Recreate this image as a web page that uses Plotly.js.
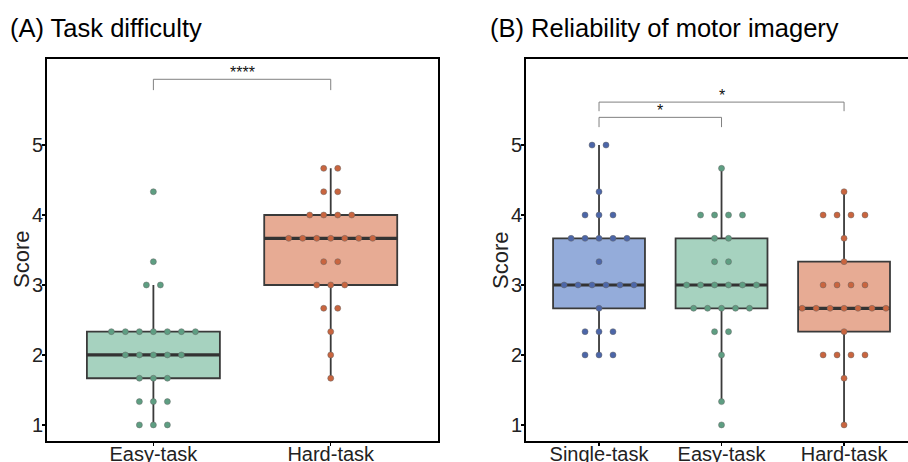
<!DOCTYPE html>
<html><head><meta charset="utf-8">
<script src="https://cdn.plot.ly/plotly-3.0.1.min.js"></script>
<style>html,body{margin:0;padding:0;background:#fff}</style>
</head><body><div id="chart" style="width:908px;height:462px"></div>
<script>
// ---- data ----
const catsA = ["Easy-task", "Hard-task"];
const catsB = ["Single-task", "Easy-task", "Hard-task"];
const difficultyEasy = [1, 1, 1, 1.333, 1.333, 1.333, 1.667, 1.667, 1.667, 2, 2, 2, 2, 2,
  2.333, 2.333, 2.333, 2.333, 2.333, 2.333, 2.333, 3, 3, 3.333, 4.333];
const difficultyHard = [1.667, 2, 2.333, 2.667, 2.667, 3, 3, 3, 3.333, 3.333,
  3.667, 3.667, 3.667, 3.667, 3.667, 3.667, 3.667, 4, 4, 4, 4, 4.333, 4.333, 4.667, 4.667];
const reliabilitySingle = [2, 2, 2, 2.333, 2.333, 2.333, 2.667, 3, 3, 3, 3, 3, 3, 3.333,
  3.667, 3.667, 3.667, 3.667, 3.667, 4, 4, 4, 4.333, 5, 5];
const reliabilityEasy = [1, 1.333, 2, 2.333, 2.333, 2.667, 2.667, 2.667, 2.667, 2.667,
  3, 3, 3, 3, 3, 3, 3.333, 3.333, 3.667, 3.667, 4, 4, 4, 4, 4.667];
const reliabilityHard = [1, 1.667, 2, 2, 2, 2, 2.333, 2.667, 2.667, 2.667, 2.667, 2.667, 2.667, 2.667,
  3, 3, 3, 3, 3.333, 3.667, 4, 4, 4, 4, 4.333];
const sigA = [{from: 0, to: 1, label: "****"}];
const sigB = [{from: 0, to: 1, label: "*"}, {from: 0, to: 2, label: "*"}];
const yTicks = [1, 2, 3, 4, 5];

// ---- styles ----
const fillGreen = "#a6d2bf", dotGreen = "#5e9e82";
const fillOrange = "#e7ab94", dotOrange = "#c9653f";
const fillBlue = "#94acda", dotBlue = "#4c66a8";
const FONT = "Liberation Sans, Arial, sans-serif";

function swarm(vals, center, step) {
  const groups = {};
  vals.forEach(v => { const k = v.toFixed(3); (groups[k] = groups[k] || []).push(v); });
  const xs = [], ys = [];
  Object.keys(groups).forEach(k => {
    const g = groups[k], n = g.length;
    g.forEach((v, i) => { xs.push(center + (i - (n - 1) / 2) * step); ys.push(v); });
  });
  return {xs, ys};
}
function median(vals) {
  const s = vals.slice().sort((a, b) => a - b), n = s.length;
  return n % 2 ? s[(n - 1) / 2] : (s[n / 2 - 1] + s[n / 2]) / 2;
}

const traces = [];
function addGroup(vals, idx, xa, ya, fill, dot, step) {
  traces.push({type: "box", y: vals, x0: idx, xaxis: xa, yaxis: ya, width: 0.75, quartilemethod: "inclusive",
    fillcolor: fill, line: {color: "#3a3a3a", width: 1.8}, whiskerwidth: 0,
    boxpoints: "outliers", marker: {opacity: 0}, hoverinfo: "skip", showlegend: false});
  const m = median(vals);
  traces.push({type: "scatter", mode: "lines", x: [idx - 0.375, idx + 0.375], y: [m, m],
    xaxis: xa, yaxis: ya, line: {color: "#333333", width: 3.2}, hoverinfo: "skip", showlegend: false});
  const s = swarm(vals, idx, step);
  traces.push({type: "scatter", mode: "markers", x: s.xs, y: s.ys, xaxis: xa, yaxis: ya,
    marker: {size: 6, color: dot, line: {width: 0.6, color: "rgba(100,100,100,0.8)"}},
    hoverinfo: "skip", showlegend: false});
}
const stepA = 0.079, stepB = 0.114;
addGroup(difficultyEasy, 0, "x", "y", fillGreen, dotGreen, stepA);
addGroup(difficultyHard, 1, "x", "y", fillOrange, dotOrange, stepA);
addGroup(reliabilitySingle, 0, "x2", "y2", fillBlue, dotBlue, stepB);
addGroup(reliabilityEasy, 1, "x2", "y2", fillGreen, dotGreen, stepB);
addGroup(reliabilityHard, 2, "x2", "y2", fillOrange, dotOrange, stepB);

const shapes = [], annotations = [];
function bracket(s, xr, yr, yTop, drop) {
  const ln = {color: "#808080", width: 1};
  shapes.push({type: "line", xref: xr, yref: yr, x0: s.from, x1: s.to, y0: yTop, y1: yTop, line: ln});
  shapes.push({type: "line", xref: xr, yref: yr, x0: s.from, x1: s.from, y0: yTop, y1: yTop - drop, line: ln});
  shapes.push({type: "line", xref: xr, yref: yr, x0: s.to, x1: s.to, y0: yTop, y1: yTop - drop, line: ln});
  annotations.push({xref: xr, yref: yr, x: (s.from + s.to) / 2, y: yTop, yanchor: "bottom", yshift: -4,
    text: s.label, showarrow: false, font: {family: FONT, size: 16, color: "#111"}});
}
bracket(sigA[0], "x", "y", 5.94, 0.155);
bracket(sigB[0], "x2", "y2", 5.396, 0.14);
bracket(sigB[1], "x2", "y2", 5.614, 0.13);

annotations.push({xref: "paper", yref: "paper", x: 8 / 908, y: (462 - 28) / 462, xanchor: "left", yanchor: "middle",
  text: "(A) Task difficulty", showarrow: false, font: {family: FONT, size: 25.5, color: "#000"}});
annotations.push({xref: "paper", yref: "paper", x: 488 / 908, y: (462 - 28) / 462, xanchor: "left", yanchor: "middle",
  text: "(B) Reliability of motor imagery", showarrow: false, font: {family: FONT, size: 25.5, color: "#000"}});
annotations.push({xref: "paper", yref: "paper", x: 21 / 908, y: (462 - 260) / 462, xanchor: "center", yanchor: "middle",
  textangle: -90, text: "Score", showarrow: false, font: {family: FONT, size: 22, color: "#222"}});
annotations.push({xref: "paper", yref: "paper", x: 500 / 908, y: (462 - 260) / 462, xanchor: "center", yanchor: "middle",
  textangle: -90, text: "Score", showarrow: false, font: {family: FONT, size: 22, color: "#222"}});

const axBase = {showline: true, linewidth: 2, linecolor: "#000", ticks: "outside", ticklen: 3, tickwidth: 1.5,
  tickcolor: "#000", showgrid: false, zeroline: false, tickfont: {family: FONT, size: 20, color: "#222"}};
const ydom = [21 / 462, 403 / 462];
const layout = {
  width: 908, height: 462, margin: {l: 0, r: 0, t: 0, b: 0}, paper_bgcolor: "#fff", plot_bgcolor: "#fff",
  showlegend: false, font: {family: FONT},
  xaxis: Object.assign({}, axBase, {domain: [47 / 908, 438 / 908], range: [-0.6, 1.605], tickvals: [0, 1],
    ticktext: catsA, mirror: true, anchor: "y", ticklabelstandoff: -9}),
  yaxis: Object.assign({}, axBase, {domain: ydom, range: [0.77, 6.23], tickvals: yTicks, mirror: true,
    anchor: "x", ticklabelstandoff: -5}),
  xaxis2: Object.assign({}, axBase, {domain: [526 / 908, 1], range: [-0.596, 2.522], tickvals: [0, 1, 2],
    ticktext: catsB, mirror: true, anchor: "y2", ticklabelstandoff: -9}),
  yaxis2: Object.assign({}, axBase, {domain: ydom, range: [0.77, 6.23], tickvals: yTicks, mirror: false,
    anchor: "x2", ticklabelstandoff: -5}),
  shapes, annotations
};
Plotly.newPlot("chart", traces, layout, {staticPlot: true, displayModeBar: false});
</script></body></html>
